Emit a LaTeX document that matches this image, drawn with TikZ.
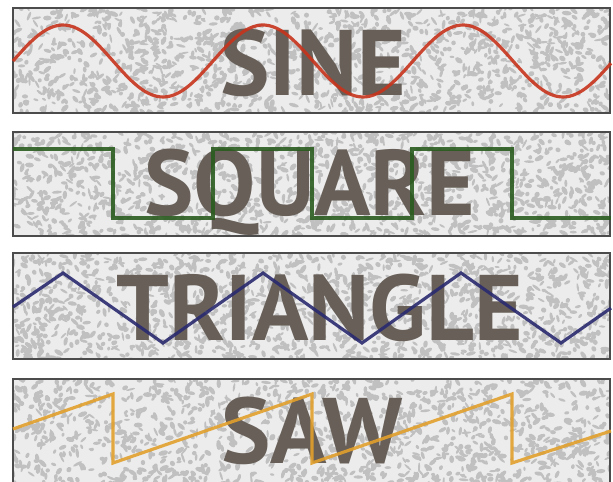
\documentclass[tikz,border=0pt]{standalone}
\usepackage{fontspec}
\setmainfont{PT Sans}
\usepackage{tikz}
\usetikzlibrary{positioning}
\usepackage{xcolor}
\definecolor{sinered}{RGB}{200,52,28}
\definecolor{sqgreen}{RGB}{42,92,30}
\definecolor{trinavy}{RGB}{42,42,112}
\definecolor{sawgold}{RGB}{226,160,44}
\definecolor{ink}{RGB}{103,95,88}
\definecolor{grainbase}{RGB}{236,236,236}
\definecolor{graindark}{RGB}{192,192,192}

\begin{document}
\begin{tikzpicture}[
  x=0.02cm, y=-0.02cm,
  panel/.style={draw=black!70, line width=0.6pt},
  wave/.style={line width=1.8pt, line join=miter, draw opacity=0.9},
  label/.style={font=\bfseries\fontsize{53}{53}\selectfont, text=ink, inner sep=0pt, anchor=base},
]
  \clip (0,0) rectangle (613,481);
  \fill[white] (0,0) rectangle (613,481);
  \pgfmathsetseed{42}

  % grainy backgrounds of the four strips
  \foreach \top/\bot in {8/113, 132/236, 253/359, 379/495} {
    \begin{scope}
      \clip (13,\top) rectangle (610,\bot);
      \fill[grainbase] (13,\top) rectangle (610,\bot);
      \foreach \i in {1,...,1400} {
        \pgfmathsetmacro\xx{13+597*rnd}
        \pgfmathsetmacro\yy{\top+(\bot-\top)*rnd}
        \pgfmathsetmacro\ra{2+3.2*rnd}
        \pgfmathsetmacro\rb{1+1.6*rnd}
        \pgfmathsetmacro\aa{180*rnd}
        \fill[graindark, rotate around={\aa:(\xx,\yy)}] (\xx,\yy) ellipse[x radius=\ra, y radius=\rb];
      }
    \end{scope}
    \draw[panel] (13,\top) rectangle (610,\bot);
  }

  % labels
  \node[label] (SINE) at (313,95) {SINE};
  \node[label] (SQUARE) at (310,215) {SQUARE};
  \node[label] (TRIANGLE) at (320,340) {TRIANGLE};
  \node[label] (SAW) at (312,463) {SAW};

  % waveforms
  \draw[wave, sinered] plot[domain=13:611, samples=160, smooth] (\x, {61-36*sin(1.8*(\x-13))});
  \draw[wave, sqgreen] (13,149) -- (113,149) -- (113,218) -- (213,218) -- (213,149)
    -- (312,149) -- (312,218) -- (412,218) -- (412,149) -- (512,149) -- (512,218) -- (611,218);
  \draw[wave, trinavy] (13,307) -- (63,273) -- (163,343) -- (263,273) -- (362,343)
    -- (461,273) -- (561,343) -- (611,308);
  \draw[wave, sawgold] (13,429) -- (113,394) -- (113,463) -- (312,394) -- (312,463)
    -- (512,394) -- (512,463) -- (611,431);
\end{tikzpicture}
\end{document}
